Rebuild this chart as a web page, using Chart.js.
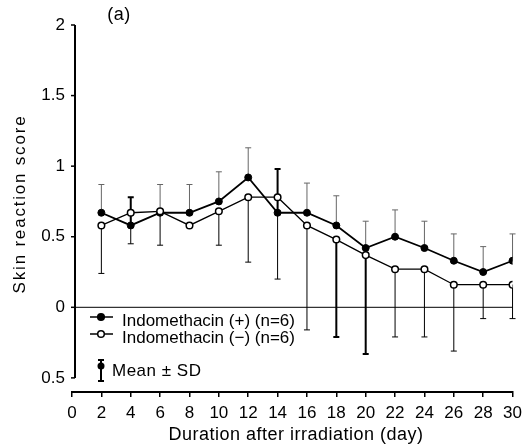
<!DOCTYPE html>
<html>
<head>
<meta charset="utf-8">
<script src="https://cdn.jsdelivr.net/npm/chart.js@4"></script>
<style>
  html, body { margin: 0; padding: 0; background: #fff; }
  #wrap { width: 528px; height: 447px; }
</style>
</head>
<body>
<div id="wrap"><canvas id="chart" width="528" height="447"></canvas></div>
<script>
// data
var days = [2, 4, 6, 8, 10, 12, 14, 16, 18, 20, 22, 24, 26, 28, 30];
var indoPlus = [0.67, 0.58, 0.67, 0.67, 0.75, 0.92, 0.67, 0.67, 0.58, 0.42, 0.5, 0.42, 0.33, 0.25, 0.33];
var indoPlusSD = [0.2, 0.2, 0.2, 0.2, 0.21, 0.21, 0.31, 0.21, 0.21, 0.19, 0.19, 0.19, 0.19, 0.18, 0.19];
var indoMinus = [0.58, 0.67, 0.68, 0.58, 0.68, 0.78, 0.78, 0.58, 0.48, 0.37, 0.27, 0.27, 0.16, 0.16, 0.16];
var indoMinusSD = [0.34, 0.22, 0.24, 0, 0.24, 0.46, 0.58, 0.74, 0.69, 0.7, 0.48, 0.48, 0.47, 0.24, 0.24];
var yTickValues = [-0.5, 0, 0.5, 1, 1.5, 2];
var yTickLabels = ['0.5', '0', '0.5', '1', '1.5', '2'];
var seriesLabels = ['Indomethacin (+) (n=6)', 'Indomethacin (\u2212) (n=6)'];
var xTitle = 'Duration after irradiation (day)';
var yTitle = 'Skin reaction score';

// which error bars are printed heavier in the original
var boldUpperDays = [4, 14];
var boldLowerDays = [18, 20];

var FONT = '"Liberation Sans", Arial, sans-serif';

function pts(vals) {
    return days.map(function (d, i) { return { x: d, y: vals[i] }; });
}

function bar(ctx, x, y0, y1, bold, color) {
    ctx.save();
    ctx.strokeStyle = color;
    ctx.lineWidth = bold ? 2 : 1;
    ctx.beginPath();
    ctx.moveTo(x, y0);
    ctx.lineTo(x, y1);
    ctx.moveTo(x - 3, y1);
    ctx.lineTo(x + 3, y1);
    ctx.stroke();
    ctx.restore();
}

var extras = {
    id: 'extras',
    beforeDatasetsDraw: function (chart) {
        var ctx = chart.ctx, xs = chart.scales.x, ys = chart.scales.y;
        var left = chart.chartArea.left + 3;

        // zero line
        ctx.save();
        ctx.strokeStyle = '#000';
        ctx.lineWidth = 1;
        ctx.beginPath();
        ctx.moveTo(left, ys.getPixelForValue(0));
        ctx.lineTo(xs.getPixelForValue(30), ys.getPixelForValue(0));
        ctx.stroke();
        ctx.restore();

        // error bars: up for (+), down for (-)
        days.forEach(function (d, i) {
            var px = xs.getPixelForValue(d);
            var bu = boldUpperDays.indexOf(d) >= 0;
            bar(ctx, px, ys.getPixelForValue(indoPlus[i]), ys.getPixelForValue(indoPlus[i] + indoPlusSD[i]), bu, bu ? '#000' : '#666');
            if (indoMinusSD[i] > 0) {
                var bl = boldLowerDays.indexOf(d) >= 0;
                bar(ctx, px, ys.getPixelForValue(indoMinus[i]), ys.getPixelForValue(indoMinus[i] - indoMinusSD[i]), bl, '#000');
            }
        });
    },
    afterDraw: function (chart) {
        var ctx = chart.ctx, ys = chart.scales.y;
        var left = chart.chartArea.left + 3;
        var top = ys.getPixelForValue(2), bot = ys.getPixelForValue(-0.5);

        // y axis line + ticks (stops at -0.5)
        ctx.save();
        ctx.strokeStyle = '#000';
        ctx.lineWidth = 2;
        ctx.beginPath();
        ctx.moveTo(left, top);
        ctx.lineTo(left, bot);
        ctx.stroke();
        ctx.lineWidth = 1.5;
        yTickValues.forEach(function (v) {
            var py = ys.getPixelForValue(v);
            ctx.beginPath();
            ctx.moveTo(left - 4, py);
            ctx.lineTo(left, py);
            ctx.stroke();
        });

        // axis titles (the original face is wide, so a bit of tracking)
        ctx.fillStyle = '#000';
        ctx.textAlign = 'center';
        ctx.textBaseline = 'middle';
        ctx.font = '18px ' + FONT;
        ctx.letterSpacing = '0.5px';
        ctx.fillText(xTitle, 296, 435);
        ctx.save();
        ctx.translate(20, 204);
        ctx.rotate(-Math.PI / 2);
        ctx.font = '17px ' + FONT;
        ctx.letterSpacing = '1.8px';
        ctx.fillText(yTitle, 0, 0);
        ctx.restore();

        // panel tag
        ctx.font = '18px ' + FONT;
        ctx.letterSpacing = '0.5px';
        ctx.fillText('(a)', 119, 15);

        // legend
        var lx = chart.chartArea.left;
        var rows = [{ y: 317, fill: '#000' }, { y: 334, fill: '#fff' }];
        ctx.textAlign = 'left';
        ctx.font = '17px ' + FONT;
        ctx.letterSpacing = '0px';
        rows.forEach(function (r, i) {
            ctx.lineWidth = 1.5;
            ctx.beginPath();
            ctx.moveTo(lx + 18, r.y);
            ctx.lineTo(lx + 41, r.y);
            ctx.stroke();
            ctx.beginPath();
            ctx.arc(lx + 29, r.y, 3.3, 0, Math.PI * 2);
            ctx.fillStyle = r.fill;
            ctx.fill();
            ctx.stroke();
            ctx.fillStyle = '#000';
            ctx.fillText(seriesLabels[i], lx + 50, r.y + 4);
        });

        // Mean ± SD key
        ctx.lineWidth = 2;
        ctx.beginPath();
        ctx.moveTo(lx + 29, 360);
        ctx.lineTo(lx + 29, 381);
        ctx.moveTo(lx + 26, 360);
        ctx.lineTo(lx + 32, 360);
        ctx.moveTo(lx + 26, 381);
        ctx.lineTo(lx + 32, 381);
        ctx.stroke();
        ctx.beginPath();
        ctx.arc(lx + 29, 366, 3.5, 0, Math.PI * 2);
        ctx.fill();
        ctx.letterSpacing = '0.5px';
        ctx.fillText('Mean \u00b1 SD', lx + 40, 371);
        ctx.restore();
    }
};

var ctx = document.getElementById('chart').getContext('2d');
var myChart = new Chart(ctx, {
    type: 'line',
    data: {
        datasets: [
            {
                label: seriesLabels[0],
                data: pts(indoPlus),
                borderColor: '#000',
                backgroundColor: '#000',
                borderWidth: 1.8,
                pointRadius: 3.5,
                pointBorderWidth: 1,
                pointBackgroundColor: '#000',
                order: 2
            },
            {
                label: seriesLabels[1],
                data: pts(indoMinus),
                borderColor: '#000',
                backgroundColor: '#fff',
                borderWidth: 1.3,
                pointRadius: 3.3,
                pointBorderWidth: 1.5,
                pointBackgroundColor: '#fff',
                order: 1
            }
        ]
    },
    options: {
        responsive: false,
        animation: false,
        layout: { padding: { top: 25, right: 9, left: 0, bottom: 0 } },
        plugins: {
            legend: { display: false },
            tooltip: { enabled: false }
        },
        scales: {
            x: {
                type: 'linear',
                min: 0,
                max: 30,
                afterFit: function (s) { s.height = 55; },
                ticks: {
                    stepSize: 2,
                    color: '#000',
                    padding: 6,
                    maxRotation: 0,
                    font: { family: FONT, size: 17 }
                },
                grid: {
                    drawOnChartArea: false,
                    drawTicks: true,
                    tickLength: 5,
                    color: '#000',
                    lineWidth: 1.5
                },
                border: { display: true, color: '#000', width: 2 },
                title: { display: false }
            },
            y: {
                type: 'linear',
                min: -0.6,
                max: 2,
                afterFit: function (s) { s.width = 72; },
                afterBuildTicks: function (s) {
                    s.ticks = yTickValues.map(function (v) { return { value: v }; });
                },
                ticks: {
                    color: '#000',
                    padding: 7,
                    font: { family: FONT, size: 17 },
                    callback: function (v) {
                        var k = yTickValues.indexOf(v);
                        return k >= 0 ? yTickLabels[k] : '';
                    }
                },
                grid: { display: false, drawTicks: false },
                border: { display: false },
                title: { display: false }
            }
        }
    },
    plugins: [extras]
});
</script>
</body>
</html>
